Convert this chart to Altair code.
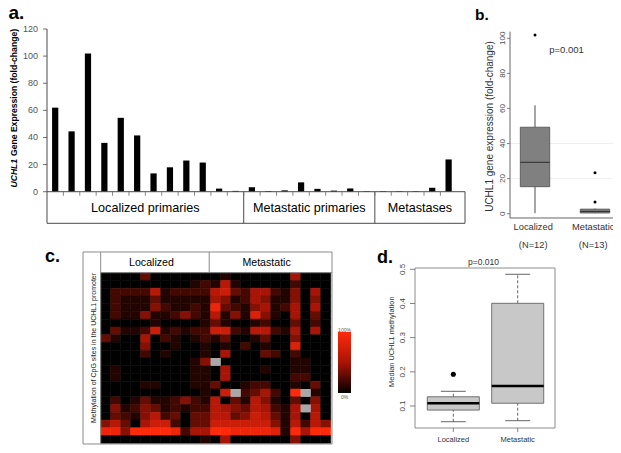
import altair as alt
import pandas as pd

FONT = "Liberation Sans"

# ---------------- panel a: UCHL1 expression per sample ----------------
a_values = [62, 44.5, 102, 36, 54.5, 41.5, 13.5, 18, 23, 21.5, 2.3, 0.6,
            3.3, 0.5, 1.0, 6.9, 2.1, 0.8, 2.4, 0.4, 0.4, 0.4, 0.4, 2.9, 23.8]
a_group_names = ["Localized primaries", "Metastatic primaries", "Metastases"]
a_group_sizes = [12, 8, 5]
a_ticks = [0, 20, 40, 60, 80, 100, 120]

# ---------------- panel b: boxplot of expression ----------------
b_groups = ["Localized", "Metastatic"]
b_counts = ["(N=12)", "(N=13)"]
b_low = [0.3, 0.3]
b_q1 = [15.4, 0.4]
b_median = [29.3, 1.3]
b_q3 = [49.3, 2.6]
b_high = [61.8, 3.0]
b_out_group = [1, 2, 2]
b_out_value = [101.9, 23.4, 6.7]
b_ticks = [0, 20, 40, 60, 80, 100]

# ---------------- panel c: CpG methylation heatmap (0-10 scale, None = missing) ----------------
c_matrix = [
    [0, 0, 0, 0, 3, 0, 0, 0, 0, 0, 0, 0, 1, 0, 0, 0, 0, 0, 0, 5, 0, 0, 0],
    [0, 0, 0, 0, 0, 0, 0, 0, 0, 1, 2, 1, 6, 1, 0, 0, 0, 0, 0, 2, 0, 0, 0],
    [0, 2, 2, 2, 2, 6, 1, 2, 2, 2, 2, 6, 7, 3, 2, 5, 5, 2, 1, 4, 0, 5, 0],
    [0, 2, 1, 1, 1, 3, 1, 1, 1, 1, 1, 5, 4, 1, 2, 5, 4, 1, 1, 4, 0, 4, 0],
    [0, 2, 1, 1, 1, 4, 2, 1, 1, 2, 1, 9, 3, 2, 1, 4, 5, 1, 2, 5, 0, 5, 0],
    [0, 2, 1, 1, 4, 1, 1, 2, 4, 2, 1, 6, 1, 4, 1, 8, 4, 1, 0, 5, 0, 3, 0],
    [0, 0, 0, 0, 0, 1, 0, 0, 0, 0, 1, 3, 1, 0, 0, 1, 2, 0, 0, 3, 0, 2, 0],
    [0, 3, 1, 1, 2, 7, 1, 2, 1, 2, 2, 7, 7, 2, 1, 6, 6, 2, 1, 5, 0, 5, 0],
    [3, 1, 0, 0, 5, 0, 2, 1, 0, 1, 2, 1, 3, 0, 0, 1, 3, 0, 0, 4, 0, 0, 0],
    [0, 0, 0, 0, 4, 0, 0, 1, 0, 0, 1, 0, 1, 0, 2, 0, 1, 0, 0, 8, 0, 0, 0],
    [0, 0, 0, 0, 2, 0, 1, 0, 0, 0, 1, 0, 5, 0, 0, 0, 3, 2, 0, 2, 0, 0, 0],
    [0, 0, 0, 0, 0, 0, 0, 0, 0, 1, 4, None, 0, 0, 0, 0, 0, 0, 0, 1, 1, 0, 0],
    [0, 1, 0, 0, 0, 0, 0, 0, 0, 1, 1, 0, 5, 0, 0, 0, 1, 0, 0, 1, 1, 0, 0],
    [0, 1, 0, 0, 0, 0, 0, 0, 0, 1, 1, 0, 5, 0, 0, 0, 0, 0, 0, 2, 2, 0, 0],
    [0, 0, 0, 0, 1, 1, 0, 0, 0, 1, 1, 3, 0, 0, 1, 2, 2, 0, 0, 1, 0, 3, 0],
    [0, 0, 0, 0, 0, 0, 0, 0, 0, 0, 1, 0, 7, None, 2, 3, 5, 2, 0, 10, None, 1, 0],
    [0, 2, 0, 1, 3, 1, 1, 2, 4, 2, 1, 6, 0, 3, 1, 6, 4, 1, 0, 3, 0, 4, 0],
    [0, 4, 1, 2, 4, 3, 1, 2, 1, 2, 2, 6, 5, 4, 3, 6, 5, 2, 1, 5, None, 5, 0],
    [0, 3, 2, 1, 4, 6, 2, 3, 0, 3, 3, 6, 6, 3, 4, 7, 6, 3, 1, 5, 0, 6, 0],
    [4, 6, 3, 0, 5, 7, 7, 2, 0, 3, 3, 7, 7, 7, 7, 7, 7, 4, 1, 6, 2, 6, 4],
    [9, 9, 4, 10, 10, 10, 10, 9, 2, 5, 5, 10, 10, 9, 9, 9, 9, 8, 1, 10, 5, 10, 10],
    [0, 0, 0, 0, 0, 0, 0, 0, 0, 0, 1, 0, 5, 0, 0, 0, 0, 0, 0, 4, 0, 0, 0],
]
c_groups = ["Localized", "Metastatic"]
c_group_sizes = [11, 12]

# ---------------- panel d: median methylation boxplot ----------------
d_groups = ["Localized", "Metastatic"]
d_low = [0.054, 0.057]
d_q1 = [0.088, 0.108]
d_median = [0.108, 0.1585]
d_q3 = [0.127, 0.4005]
d_high = [0.143, 0.4855]
d_out_group = [1]
d_out_value = [0.193]
d_ticks = [0.1, 0.2, 0.3, 0.4, 0.5]


def sc(domain, rng):
    return alt.Scale(domain=domain, range=rng, nice=False, zero=False)


def X(f, s):
    return alt.X(f, type="quantitative", scale=s, axis=None)


def Y(f, s):
    return alt.Y(f, type="quantitative", scale=s, axis=None)


def label(txt, x, y, size, bold=False, angle=0, align="left", baseline="alphabetic",
          color="black", font=FONT, italic=False):
    kw = dict(fontSize=size, font=font, align=align, baseline=baseline, color=color)
    if bold:
        kw["fontWeight"] = "bold"
    if italic:
        kw["fontStyle"] = "italic"
    if angle:
        kw["angle"] = angle
    return alt.Chart(pd.DataFrame({"t": [txt]})).mark_text(**kw).encode(
        x=alt.value(x), y=alt.value(y), text="t:N")


def seg(df, xs, ys, x1, x2, y1, y2, color, width=1, dash=None):
    kw = dict(color=color, strokeWidth=width)
    if dash:
        kw["strokeDash"] = dash
    return alt.Chart(df).mark_rule(**kw).encode(
        x=X(x1, xs), x2=alt.X2(x2), y=Y(y1, ys), y2=alt.Y2(y2))


layers = []

# ===== panel a =====
ax = sc([0.5, 26.0], [39, 457])
ay = sc([-23.3, 120], [215.3, 21])
df_a = pd.DataFrame({"i": list(range(1, len(a_values) + 1)), "v": a_values})
layers.append(
    alt.Chart(df_a).transform_calculate(x1="datum.i - 0.19", x2="datum.i + 0.19", z="0")
    .mark_bar(color="black").encode(x=X("x1", ax), x2="x2:Q", y=Y("v", ay), y2="z:Q"))

edges = [0.5]
for n in a_group_sizes:
    edges.append(edges[-1] + n)
right_edge = 26.0
table_bottom = -23.3
df_lines_a = pd.DataFrame({
    "x1": [0.5, 0.5, 0.5] + edges[1:-1] + [right_edge],
    "x2": [right_edge, right_edge, 0.5] + edges[1:-1] + [right_edge],
    "y1": [0, table_bottom, table_bottom] + [table_bottom] * (len(edges) - 2) + [table_bottom],
    "y2": [0, table_bottom, 120] + [0] * (len(edges) - 2) + [0],
})
layers.append(seg(df_lines_a, ax, ay, "x1", "x2", "y1", "y2", "#4a4a4a", 1))
df_cat = pd.DataFrame({"x": [k + 0.5 for k in range(1, len(a_values))]})
df_cat["y1"] = 0
df_cat["y2"] = -3
layers.append(alt.Chart(df_cat).mark_rule(color="#6a6a6a", strokeWidth=0.8).encode(
    x=X("x", ax), y=Y("y1", ay), y2="y2:Q"))
df_at = pd.DataFrame({"t": a_ticks, "lab": [str(t) for t in a_ticks]})
layers.append(alt.Chart(df_at).mark_rule(color="#4a4a4a", strokeWidth=0.8).encode(
    x=alt.value(35), x2=alt.value(39), y=Y("t", ay)))
layers.append(alt.Chart(df_at).mark_text(font=FONT, fontSize=9, align="right", baseline="middle",
                                         color="#555555").encode(
    x=alt.value(30), y=Y("t", ay), text="lab:N"))
centers = [(edges[k] + edges[k + 1]) / 2 for k in range(len(a_group_sizes))]
centers[-1] = (edges[-2] + right_edge) / 2
df_ag = pd.DataFrame({"x": centers, "y": [table_bottom / 2] * 3, "lab": a_group_names})
layers.append(alt.Chart(df_ag).mark_text(font=FONT, fontSize=12.6, baseline="middle",
                                         color="black").encode(
    x=X("x", ax), y=Y("y", ay), text="lab:N"))
layers.append(label("UCHL1", 6, 179.5, 8.6, bold=True, italic=True, angle=270,
                    align="left", baseline="middle"))
layers.append(label("Gene Expression (fold-change)", 6, 148.0, 8.6, bold=True, angle=270,
                    align="left", baseline="middle"))
layers.append(label("a.", 0.5, 10.5, 19, bold=True))

# ===== panel b =====
bx = sc([0.583, 2.367], [502, 609])
by = sc([0, 100], [205.7, 30.3])
df_bgrid = pd.DataFrame({"x1": [0.583, 0.583], "x2": [2.367, 2.367], "y": [20, 40]})
layers.append(alt.Chart(df_bgrid).mark_rule(color="#efefef", strokeWidth=1).encode(
    x=X("x1", bx), x2="x2:Q", y=Y("y", by)))
df_bl = pd.DataFrame({"x1": [0.583, 0.583], "x2": [0.583, 2.367],
                      "y1": [-2.45, -2.45], "y2": [103.8, -2.45]})
layers.append(seg(df_bl, bx, by, "x1", "x2", "y1", "y2", "#666666", 1))
df_bt = pd.DataFrame({"t": b_ticks, "lab": [str(t) for t in b_ticks]})
layers.append(alt.Chart(df_bt).mark_rule(color="#666666", strokeWidth=0.8).encode(
    x=alt.value(499), x2=alt.value(502), y=Y("t", by)))
layers.append(alt.Chart(df_bt).mark_text(font=FONT, fontSize=8, angle=270, align="center",
                                         baseline="middle", color="#4d4d4d").encode(
    x=alt.value(494.5), y=Y("t", by), text="lab:N"))
df_b = pd.DataFrame({"g": [1, 2], "low": b_low, "q1": b_q1, "med": b_median,
                     "q3": b_q3, "high": b_high})
df_b["l"] = df_b["g"] - 0.245
df_b["r"] = df_b["g"] + 0.245
layers.append(seg(df_b, bx, by, "g", "g", "q3", "high", "#4d4d4d", 1))
layers.append(seg(df_b, bx, by, "g", "g", "low", "q1", "#4d4d4d", 1))
layers.append(alt.Chart(df_b).mark_rect(fill="#808080", stroke="#4d4d4d", strokeWidth=0.8).encode(
    x=X("l", bx), x2="r:Q", y=Y("q1", by), y2="q3:Q"))
layers.append(seg(df_b, bx, by, "l", "r", "med", "med", "#333333", 1.1))
df_bo = pd.DataFrame({"g": b_out_group, "v": b_out_value})
layers.append(alt.Chart(df_bo).mark_circle(color="black", size=9, opacity=1).encode(
    x=X("g", bx), y=Y("v", by)))
df_bx = pd.DataFrame({"g": [1, 2], "name": b_groups, "n": b_counts})
df_bx["gl"] = df_bx["g"] - 0.03
layers.append(alt.Chart(df_bx).mark_text(font=FONT, fontSize=9.3, color="#333333",
                                         baseline="alphabetic").encode(
    x=X("gl", bx), y=alt.value(221.5), text="name:N"))
layers.append(alt.Chart(df_bx).mark_text(font=FONT, fontSize=9.3, color="#333333",
                                         baseline="alphabetic").encode(
    x=X("gl", bx), y=alt.value(239.5), text="n:N"))
layers.append(label("p=0.001", 558.5, 41.5, 9.5, align="center", baseline="middle",
                    color="#333333"))
layers.append(label("UCHL1 gene expression (fold-change)", 482, 118.5, 10, angle=270,
                    align="center", baseline="middle", color="#333333"))
layers.append(label("b.", 467, 11.5, 15.5, bold=True))

# ===== panel c =====
cx = sc([0, 23], [92.7, 322.7])
cy = sc([0, 22], [264.7, 435.3])
rows, cols, vals, mrows, mcols = [], [], [], [], []
for r, line in enumerate(c_matrix):
    for c, v in enumerate(line):
        if v is None:
            mrows.append(r)
            mcols.append(c)
        else:
            rows.append(r)
            cols.append(c)
            vals.append(v)
df_c = pd.DataFrame({"r": rows, "c": cols, "v": vals})
df_c["r2"] = df_c["r"] + 1
df_c["c2"] = df_c["c"] + 1
heat = alt.Scale(domain=[0, 5, 10], range=["#000000", "#a81405", "#ff2a0a"], interpolate="rgb")
layers.append(alt.Chart(df_c).mark_rect(strokeWidth=0.6).encode(
    x=X("c", cx), x2="c2:Q", y=Y("r", cy), y2="r2:Q",
    color=alt.Color("v:Q", scale=heat, legend=None),
    stroke=alt.Stroke("v:Q", scale=heat, legend=None)))
df_cm = pd.DataFrame({"r": mrows, "c": mcols})
df_cm["r2"] = df_cm["r"] + 1
df_cm["c2"] = df_cm["c"] + 1
layers.append(alt.Chart(df_cm).mark_rect(color="#a8a8a8").encode(
    x=X("c", cx), x2="c2:Q", y=Y("r", cy), y2="r2:Q"))
split = 10.85
df_cl = pd.DataFrame({
    "x1": [-1.77, -1.77, 23.13, -1.77, 0, 0, split],
    "x2": [23.13, 23.13, 23.13, -1.77, 23.13, 0, split],
    "y1": [-2.67, 22.09, -2.67, -2.67, 0, -2.67, -2.67],
    "y2": [-2.67, 22.09, 22.09, 22.09, 0, 22.09, 0],
})
layers.append(seg(df_cl, cx, cy, "x1", "x2", "y1", "y2", "#8a8a8a", 1))
df_ch = pd.DataFrame({"x": [split / 2 - 0.35, (split + 23.13) / 2 - 0.4], "y": [-1.25, -1.25],
                      "lab": c_groups})
layers.append(alt.Chart(df_ch).mark_text(font=FONT, fontSize=10.6, baseline="middle",
                                         color="black").encode(
    x=X("x", cx), y=Y("y", cy), text="lab:N"))
layers.append(label("Methylation of CpG sites in the UCHL1 promoter", 86, 340, 7, angle=270,
                    align="center", baseline="middle", color="#222222"))
layers.append(alt.Chart(pd.DataFrame({"a": [0]})).mark_rect(
    color=alt.LinearGradient(gradient="linear",
                             stops=[alt.GradientStop(color="#000000", offset=0),
                                    alt.GradientStop(color="#a81405", offset=0.5),
                                    alt.GradientStop(color="#ff2a0a", offset=1)],
                             x1=0, x2=0, y1=1, y2=0)).encode(
    x=alt.value(330), x2=alt.value(343), y=alt.value(324), y2=alt.value(385)))
layers.append(label("100%", 336.5, 321.5, 5, align="center", baseline="middle", color="#555555"))
layers.append(label("0%", 336.5, 388.5, 5, align="center", baseline="middle", color="#555555"))
layers.append(label("c.", 37, 254, 18, bold=True))

# ===== panel d =====
dx = sc([0.405, 2.579], [407, 547])
dy = sc([0.0356, 0.5039], [420, 260])
layers.append(alt.Chart(pd.DataFrame({"x1": [0.405], "x2": [2.579], "y1": [0.0356], "y2": [0.5039]}))
              .mark_rect(fillOpacity=0, stroke="#8c8c8c", strokeWidth=1).encode(
    x=X("x1", dx), x2="x2:Q", y=Y("y1", dy), y2="y2:Q"))
df_dt = pd.DataFrame({"t": d_ticks, "lab": [f"{t:.1f}" for t in d_ticks]})
layers.append(alt.Chart(df_dt).mark_rule(color="#666666", strokeWidth=0.8).encode(
    x=alt.value(402), x2=alt.value(407), y=Y("t", dy)))
layers.append(alt.Chart(df_dt).mark_text(font=FONT, fontSize=8, angle=270, align="center",
                                         baseline="middle", color="#444444").encode(
    x=alt.value(395), y=Y("t", dy), text="lab:N"))
df_d = pd.DataFrame({"g": [1, 2], "name": d_groups, "low": d_low, "q1": d_q1, "med": d_median,
                     "q3": d_q3, "high": d_high})
df_d["l"] = df_d["g"] - 0.404
df_d["r"] = df_d["g"] + 0.404
df_d["cl"] = df_d["g"] - 0.194
df_d["cr"] = df_d["g"] + 0.194
layers.append(alt.Chart(df_d).mark_rule(color="#666666", strokeWidth=0.8).encode(
    x=X("g", dx), y=alt.value(420), y2=alt.value(424)))
layers.append(alt.Chart(df_d).mark_text(font=FONT, fontSize=7.5, baseline="middle",
                                        color="#333333").encode(
    x=X("g", dx), y=alt.value(431.5), text="name:N"))
layers.append(seg(df_d, dx, dy, "g", "g", "q3", "high", "#555555", 0.9, [3, 2]))
layers.append(seg(df_d, dx, dy, "g", "g", "low", "q1", "#555555", 0.9, [3, 2]))
layers.append(seg(df_d, dx, dy, "cl", "cr", "high", "high", "#555555", 0.9))
layers.append(seg(df_d, dx, dy, "cl", "cr", "low", "low", "#555555", 0.9))
layers.append(alt.Chart(df_d).mark_rect(fill="#c8c8c8", stroke="#555555", strokeWidth=0.8).encode(
    x=X("l", dx), x2="r:Q", y=Y("q1", dy), y2="q3:Q"))
layers.append(seg(df_d, dx, dy, "l", "r", "med", "med", "black", 2.6))
df_do = pd.DataFrame({"g": d_out_group, "v": d_out_value})
layers.append(alt.Chart(df_do).mark_circle(color="black", size=26, opacity=1).encode(
    x=X("g", dx), y=Y("v", dy)))
layers.append(label("p=0.010", 475.5, 257, 8.5, align="center", color="#333333"))
layers.append(label("Median UCHL1 methylation", 383.7, 333.7, 7.4, angle=270, align="center",
                    baseline="middle", color="#333333"))
layers.append(label("d.", 369, 255, 18, bold=True))

chart = alt.layer(*layers).resolve_scale(
    x="independent", y="independent", color="independent", stroke="independent"
).properties(
    width=605, height=437, padding=0, autosize=alt.AutoSizeParams(type="none")
).configure_view(strokeWidth=0)

chart.save("out.html", embed_options={"renderer": "svg", "actions": False})
